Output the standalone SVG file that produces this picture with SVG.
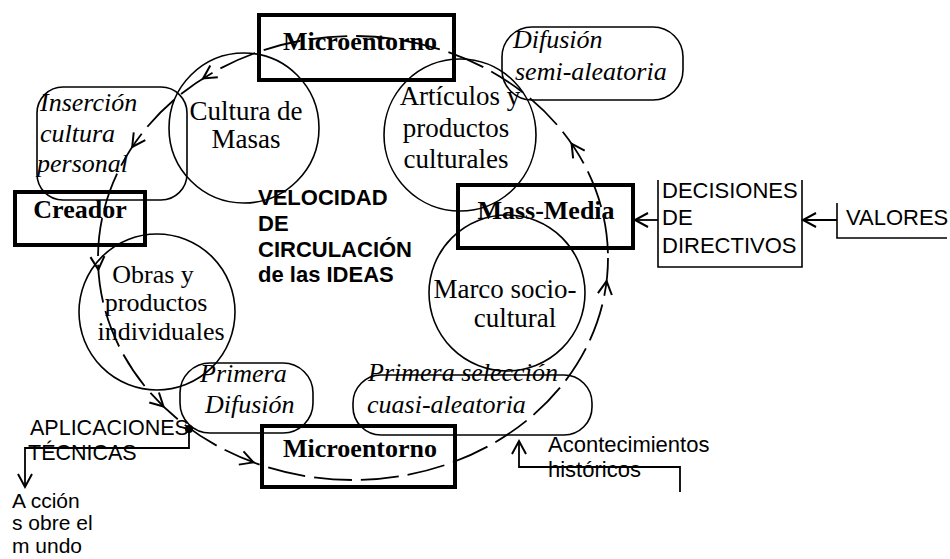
<svg xmlns="http://www.w3.org/2000/svg" width="950" height="559" viewBox="0 0 950 559">
<style>
.bg{fill:#fff}
.circ{fill:none;stroke:#000;stroke-width:1.6}
.rr{fill:none;stroke:#000;stroke-width:1.6}
.thick{fill:none;stroke:#000;stroke-width:4}
.thin{fill:none;stroke:#000;stroke-width:1.6}
.flow{fill:none;stroke:#000;stroke-width:1.8;stroke-dasharray:38 9}
.ln{fill:none;stroke:#000;stroke-width:1.8}
.serif{font-family:"Liberation Serif","Times New Roman",serif;font-size:27px;fill:#000}
.it{font-family:"Liberation Serif","Times New Roman",serif;font-size:26px;font-style:italic;fill:#000}
.bold{font-family:"Liberation Serif","Times New Roman",serif;font-size:26px;font-weight:bold;fill:#000}
.sans{font-family:"Liberation Sans",Arial,sans-serif;font-size:22px;fill:#000}
.sansb{font-family:"Liberation Sans",Arial,sans-serif;font-size:22px;font-weight:bold;fill:#000}
</style>
<defs>
<marker id="chev" viewBox="-16 -10 20 20" refX="0" refY="0" markerWidth="20" markerHeight="20" markerUnits="userSpaceOnUse" orient="auto">
<path d="M-13,-7 L0,0 L-13,7" fill="none" stroke="#000" stroke-width="2"/>
</marker>
</defs>
<rect class="bg" x="0" y="0" width="950" height="559"/>

<g id="cultura-masas">
<circle class="circ" cx="244" cy="128" r="75"/>
<text class="serif" x="246" y="120" text-anchor="middle">Cultura de</text>
<text class="serif" x="246" y="148" text-anchor="middle">Masas</text>
</g>
<g id="articulos">
<circle class="circ" cx="460" cy="135" r="76"/>
<text class="serif" x="460" y="105" text-anchor="middle">Artículos y</text>
<text class="serif" x="456" y="137" text-anchor="middle">productos</text>
<text class="serif" x="456" y="168" text-anchor="middle">culturales</text>
</g>
<g id="obras">
<circle class="circ" cx="157" cy="312" r="78"/>
<text class="serif" x="153" y="283" text-anchor="middle" style="font-size:26px">Obras y</text>
<text class="serif" x="156" y="311" text-anchor="middle" style="font-size:26px">productos</text>
<text class="serif" x="161" y="340" text-anchor="middle" style="font-size:26px">individuales</text>
</g>
<g id="marco">
<circle class="circ" cx="507" cy="293" r="78"/>
<text class="serif" x="505" y="298" text-anchor="middle">Marco socio-</text>
<text class="serif" x="515" y="327" text-anchor="middle">cultural</text>
</g>

<g id="insercion">
<rect class="rr" x="37" y="87" width="150" height="113" rx="26"/>
<text class="it" x="40" y="111">Inserción</text>
<text class="it" x="40" y="142">cultura</text>
<text class="it" x="37" y="172">personal</text>
</g>
<g id="difusion-semi">
<rect class="rr" x="502" y="27" width="181" height="73" rx="30"/>
<text class="it" x="513" y="48">Difusión</text>
<text class="it" x="515" y="80">semi-aleatoria</text>
</g>
<g id="primera-difusion">
<rect class="rr" x="180" y="363" width="133" height="70" rx="30"/>
<text class="it" x="200" y="382">Primera</text>
<text class="it" x="205" y="413">Difusión</text>
</g>
<g id="primera-seleccion">
<rect class="rr" x="353" y="375" width="239" height="60" rx="28"/>
<text class="it" x="368" y="381">Primera selección</text>
<text class="it" x="367" y="413">cuasi-aleatoria</text>
</g>

<g id="microentorno-top">
<rect class="thick" x="259" y="15" width="195" height="65"/>
<text class="bold" x="360" y="50" text-anchor="middle">Microentorno</text>
</g>
<g id="creador">
<rect class="thick" x="15" y="192" width="130" height="53"/>
<text class="bold" x="80" y="218" text-anchor="middle">Creador</text>
</g>
<g id="mass-media">
<rect class="thick" x="458" y="185" width="175" height="63"/>
<text class="bold" x="546" y="219" text-anchor="middle">Mass-Media</text>
</g>
<g id="microentorno-bottom">
<rect class="thick" x="262" y="426" width="193" height="61"/>
<text class="bold" x="360" y="457" text-anchor="middle">Microentorno</text>
</g>

<g id="velocidad">
<text class="sansb" x="258" y="205">VELOCIDAD</text>
<text class="sansb" x="258" y="231">DE</text>
<text class="sansb" x="258" y="257">CIRCULACIÓN</text>
<text class="sansb" x="258" y="282">de las IDEAS</text>
</g>
<g id="decisiones">
<path class="thin" d="M658,180 L658,267 L802,267 L802,180"/>
<text class="sans" x="662" y="198">DECISIONES</text>
<text class="sans" x="662" y="225">DE</text>
<text class="sans" x="662" y="253">DIRECTIVOS</text>
</g>
<g id="valores">
<path class="thin" d="M837,203 L837,238 L947,238"/>
<text class="sans" x="846" y="225">VALORES</text>
</g>
<g id="aplicaciones">
<text class="sans" x="30" y="435" style="font-size:21.5px">APLICACIONES</text>
<text class="sans" x="28" y="460" style="font-size:21.5px">TÉCNICAS</text>
</g>
<g id="accion">
<text class="sans" x="12" y="508" style="font-size:21px">A cción</text>
<text class="sans" x="12" y="530" style="font-size:21px">s obre el</text>
<text class="sans" x="12" y="553" style="font-size:21px">m undo</text>
</g>
<g id="acontecimientos">
<text class="sans" x="548" y="452">Acontecimientos</text>
<text class="sans" x="548" y="477">históricos</text>
</g>

<g id="connectors">
<ellipse class="flow" cx="353" cy="258" rx="255" ry="222"/>
<path class="ln" d="M205.6,76.8 L203.1,78.4" marker-end="url(#chev)"/>
<path class="ln" d="M133.9,144.5 L132.2,147" marker-end="url(#chev)"/>
<path class="ln" d="M98.1,266.6 L98.3,269.6" marker-end="url(#chev)"/>
<path class="ln" d="M161.3,404.4 L163.5,406.5" marker-end="url(#chev)"/>
<path class="ln" d="M250.6,461.4 L253.4,462.4" marker-end="url(#chev)"/>
<path class="ln" d="M606.2,284.2 L606.6,281.2" marker-end="url(#chev)"/>
<path class="ln" d="M573.3,146.2 L571.6,143.7" marker-end="url(#chev)"/>
<circle cx="189" cy="429" r="4" fill="#000"/>
<path class="ln" d="M189,429 L189,448 L25,448 L25,487" marker-end="url(#chev)"/>
<path class="ln" d="M680,492 L680,467 L519,467 L519,441" marker-end="url(#chev)"/>
<path class="ln" d="M658,220 L635,220" marker-end="url(#chev)"/>
<path class="ln" d="M837,220 L803,220" marker-end="url(#chev)"/>
</g>
</svg>
